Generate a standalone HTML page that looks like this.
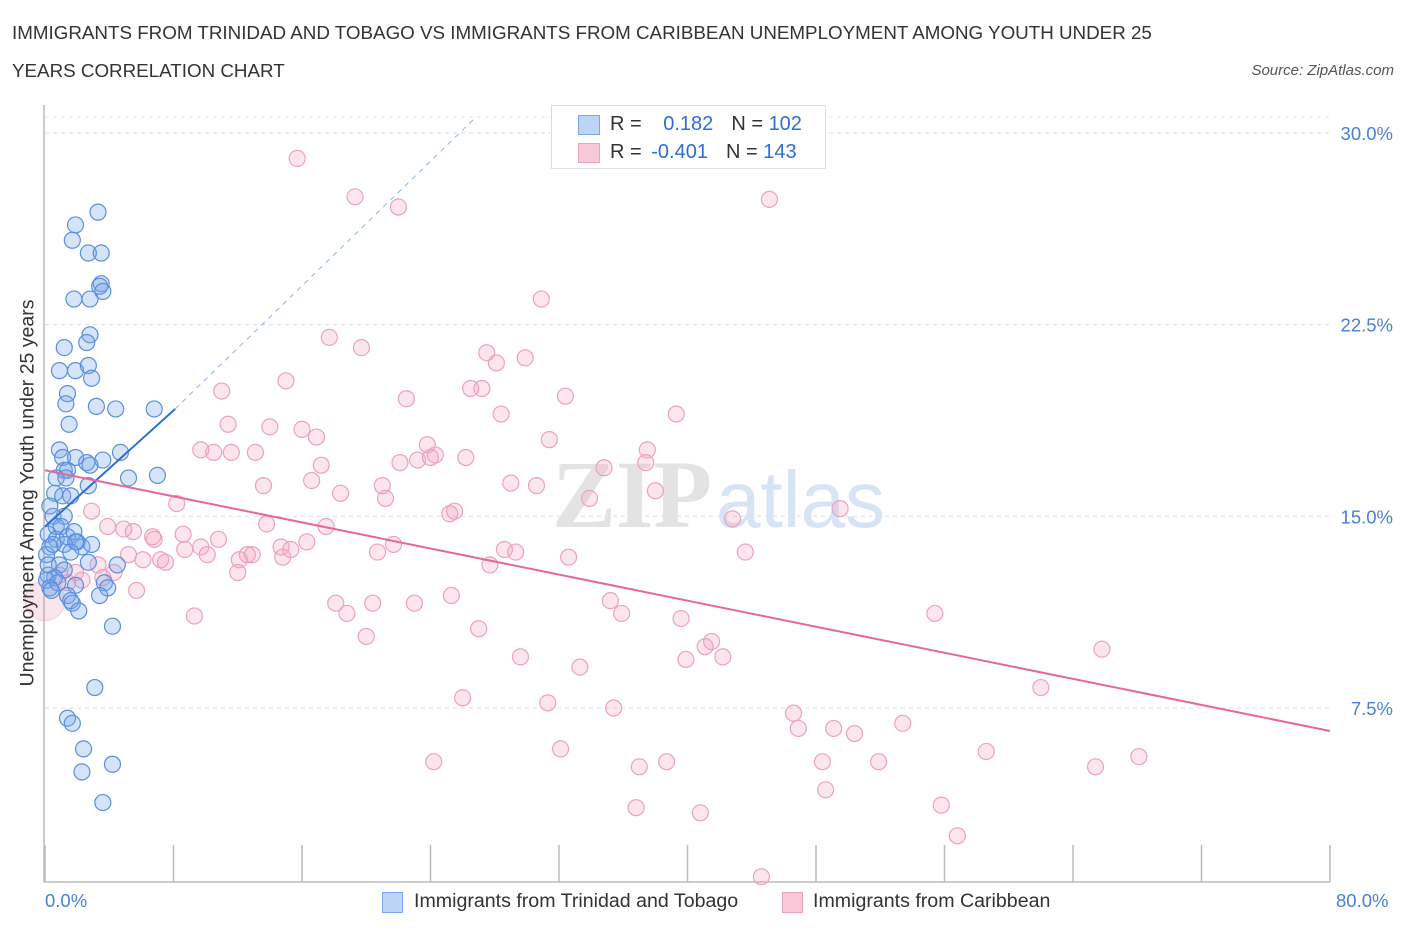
<!DOCTYPE html>
<html><head><meta charset="utf-8"><style>
body{margin:0;background:#fff;font-family:"Liberation Sans",sans-serif;}
#wrap{position:relative;width:1406px;height:930px;overflow:hidden;}
.t{position:absolute;white-space:nowrap;}
</style></head><body>
<div id="wrap">
<div class="t" style="left:12px;top:22px;font-size:18.8px;color:#333;">IMMIGRANTS FROM TRINIDAD AND TOBAGO VS IMMIGRANTS FROM CARIBBEAN UNEMPLOYMENT AMONG YOUTH UNDER 25</div>
<div class="t" style="left:12px;top:60px;font-size:18.8px;color:#333;">YEARS CORRELATION CHART</div>
<div class="t" style="right:12px;top:62px;font-size:15px;color:#555;font-style:italic;">Source: ZipAtlas.com</div>
<svg id="plot" width="1406" height="930" style="position:absolute;left:0;top:0"></svg>
</div>
<script>
const pinkX=[15.7,19.3,22.0,45.1,30.9,17.7,19.7,27.5,28.1,29.9,15.0,11.0,26.5,27.2,22.5,32.4,28.4,39.3,11.4,14.0,16.0,16.9,23.8,31.4,37.5,9.7,10.5,11.6,13.1,22.1,23.2,24.0,24.3,26.2,17.2,34.8,37.4,16.6,21.0,29.0,30.6,13.6,18.4,21.2,33.9,38.0,8.2,25.2,25.5,42.8,49.5,2.9,3.9,13.8,17.5,8.6,4.9,5.5,6.7,6.8,10.8,21.7,28.6,29.3,32.6,43.6,8.7,9.7,10.1,12.6,14.7,15.3,16.3,5.2,6.1,7.2,7.5,12.1,12.9,14.8,20.7,27.7,3.3,4.3,1.9,2.3,0.9,1.4,3.6,5.7,12.0,18.1,20.4,23.0,25.3,35.2,18.8,35.9,39.6,55.4,9.3,27.0,20.0,41.5,41.1,39.9,42.2,29.6,33.3,65.8,62.0,26.0,31.3,35.4,46.6,46.9,49.1,50.4,53.4,32.1,24.2,37.0,38.7,48.4,51.9,58.6,65.4,68.1,48.6,36.8,40.8,55.8,56.8,44.6];
const pinkY=[29.0,27.5,27.1,27.4,23.5,22.0,21.6,21.4,21.0,21.2,20.3,19.9,20.0,20.0,19.6,19.7,19.0,19.0,18.6,18.5,18.4,18.1,17.8,18.0,17.6,17.6,17.5,17.5,17.5,17.1,17.2,17.3,17.4,17.3,17.0,16.9,17.1,16.4,16.2,16.3,16.2,16.2,15.9,15.7,15.7,16.0,15.5,15.1,15.2,14.9,15.3,15.2,14.6,14.7,14.6,14.3,14.5,14.4,14.2,14.1,14.1,13.9,13.7,13.6,13.4,13.6,13.7,13.8,13.5,13.5,13.8,13.7,14.0,13.5,13.3,13.3,13.2,13.3,13.5,13.4,13.6,13.1,13.1,12.8,12.8,12.5,12.7,12.4,12.6,12.1,12.8,11.6,11.6,11.6,11.9,11.7,11.2,11.2,11.0,11.2,11.1,10.6,10.3,10.1,9.9,9.4,9.5,9.5,9.1,9.8,8.3,7.9,7.7,7.5,7.3,6.7,6.7,6.5,6.9,5.9,5.4,5.2,5.4,5.4,5.4,5.8,5.2,5.6,4.3,3.6,3.4,3.7,2.5,0.9];
const blueX=[3.3,1.9,1.7,2.7,3.5,3.5,3.4,3.6,1.8,2.8,2.8,2.6,1.2,0.9,1.9,2.7,2.9,1.4,1.3,3.2,4.4,6.8,1.5,0.9,1.1,1.9,4.7,3.6,2.6,2.8,1.2,1.4,0.7,1.3,7.0,5.2,2.7,0.6,1.1,1.6,0.3,0.5,1.2,0.7,1.0,0.2,0.7,1.4,1.8,2.0,2.3,2.9,1.9,1.2,0.3,0.1,1.6,2.7,4.5,0.9,1.2,0.2,0.6,0.1,0.3,0.8,1.9,3.7,3.9,1.4,3.4,1.6,1.7,2.1,4.2,3.1,1.4,1.7,2.4,2.3,4.2,3.6,0.4,0.2,0.5];
const blueY=[26.9,26.4,25.8,25.3,25.3,24.1,24.0,23.8,23.5,23.5,22.1,21.8,21.6,20.7,20.7,20.9,20.4,19.8,19.4,19.3,19.2,19.2,18.6,17.6,17.3,17.3,17.5,17.2,17.1,17.0,16.8,16.8,16.5,16.5,16.6,16.5,16.2,15.9,15.8,15.8,15.4,15.0,15.0,14.6,14.6,14.3,14.1,14.2,14.4,14.0,13.8,13.9,14.0,13.9,13.8,13.5,13.6,13.2,13.1,13.1,12.9,12.7,12.6,12.5,12.2,12.4,12.3,12.4,12.2,11.9,11.9,11.7,11.6,11.3,10.7,8.3,7.1,6.9,5.9,5.0,5.3,3.8,12.1,13.1,13.9];
const blueTrendX=[0,8.1], blueTrendY=[14.6,19.2];
const blueDashX=[8.1,26.8], blueDashY=[19.2,30.6];
const pinkTrendX=[0,80], pinkTrendY=[16.8,6.6];
const yTicks=[7.5,15.0,22.5,30.0];
const yTickLabels=["7.5%","15.0%","22.5%","30.0%"];
const xTicks=[0,8,16,24,32,40,48,56,64,72,80];

const X0=45,X1=1330,Y0=899.7,PXY=25.56;
const sx=v=>X0+(v/80)*(X1-X0);
const sy=v=>Y0-v*PXY;
const svg=document.getElementById('plot');
const NS='http://www.w3.org/2000/svg';
function mk(tag,attrs){const e=document.createElementNS(NS,tag);for(const k in attrs)e.setAttribute(k,attrs[k]);svg.appendChild(e);return e;}

yTicks.forEach((t,i)=>{
  const g=mk('line',{x1:45,x2:1330,y1:sy(t),y2:sy(t),stroke:'#ddd','stroke-dasharray':'4,4'});
  
  
  const tx=mk('text',{x:1393,y:sy(t)+7,'text-anchor':'end','font-size':18.5,fill:'#4a7fd4','font-family':'Liberation Sans, sans-serif'});
  tx.textContent=yTickLabels[i];
  
  
});
const tg=mk('line',{x1:45,x2:1330,y1:117,y2:117,stroke:'#e5e5e5','stroke-dasharray':'4,4'});


const ya=mk('line',{x1:44,x2:44,y1:105,y2:882,stroke:'#bbb','stroke-width':1.5});


const xa=mk('line',{x1:44,x2:1330,y1:882,y2:882,stroke:'#bbb','stroke-width':1.5});


xTicks.forEach(t=>{
  const l=mk('line',{x1:sx(t),x2:sx(t),y1:845,y2:882,stroke:'#bbb','stroke-width':1.5});
  
  
});
const wm=mk('text',{x:552,y:527,'font-size':96,fill:'#e3e3e3','font-family':'Liberation Serif, serif','font-weight':'bold'});
wm.textContent='ZIP';


const wm2=mk('text',{x:716,y:527,'font-size':80,fill:'#d6e4f5','font-family':'Liberation Sans, sans-serif'});
wm2.textContent='atlas';


const bc=mk('circle',{cx:sx(0),cy:sy(11.7),r:20,fill:'rgba(240,150,180,0.25)',stroke:'rgba(232,154,181,0.4)'});


pinkX.forEach((v,i)=>{
  const c=mk('circle',{cx:sx(v),cy:sy(pinkY[i]),r:8,fill:'rgba(244,160,190,0.28)',stroke:'#eba3bd','stroke-width':1.2});
  
  
});
blueX.forEach((v,i)=>{
  const c=mk('circle',{cx:sx(v),cy:sy(blueY[i]),r:8,fill:'rgba(120,165,235,0.3)',stroke:'#5a8fdc','stroke-width':1.2});
  
  
});
const bd=mk('line',{x1:sx(blueDashX[0]),y1:sy(blueDashY[0]),x2:sx(blueDashX[1]),y2:sy(blueDashY[1]),stroke:'#8fb3e8','stroke-width':1,'stroke-dasharray':'5,5'});


const bt=mk('line',{x1:sx(blueTrendX[0]),y1:sy(blueTrendY[0]),x2:sx(blueTrendX[1]),y2:sy(blueTrendY[1]),stroke:'#2d6fd6','stroke-width':2});


const pt=mk('line',{x1:sx(pinkTrendX[0]),y1:sy(pinkTrendY[0]),x2:sx(pinkTrendX[1]),y2:sy(pinkTrendY[1]),stroke:'#e4689a','stroke-width':2});


</script>
<div class="t" style="left:28px;top:493px;font-size:19.5px;color:#333;transform:translate(-50%,-50%) rotate(-90deg);transform-origin:center;">Unemployment Among Youth under 25 years</div>
<div style="position:absolute;left:551px;top:105px;width:273px;height:62px;border:1px solid #ddd;background:#fff;font-size:20px;">
  <div style="position:absolute;left:26px;top:9px;width:20px;height:18px;background:#bcd5f7;border:1px solid #7aa6e6;"></div>
  <div class="t" style="left:58px;top:7px;color:#333;">R = <span style="color:#2d6fd6;margin-left:16px">0.182</span><span style="color:#333;margin-left:18px">N = </span><span style="color:#2d6fd6">102</span></div>
  <div style="position:absolute;left:26px;top:37px;width:20px;height:18px;background:#f8c8d8;border:1px solid #eba3bd;"></div>
  <div class="t" style="left:58px;top:35px;color:#333;">R = <span style="color:#2d6fd6;margin-left:4px">-0.401</span><span style="color:#333;margin-left:18px">N = </span><span style="color:#2d6fd6">143</span></div>
</div>
<div class="t" style="left:45px;top:890px;font-size:18.5px;color:#4a7fd4;">0.0%</div>
<div class="t" style="left:1336px;top:890px;font-size:18.5px;color:#4a7fd4;">80.0%</div>
<div style="position:absolute;left:382px;top:890px;">
  <div style="position:absolute;left:0;top:2px;width:19px;height:19px;background:#bcd5f7;border:1px solid #7aa6e6;"></div>
  <div class="t" style="left:32px;top:0;font-size:19.6px;color:#333;">Immigrants from Trinidad and Tobago</div>
</div>
<div style="position:absolute;left:782px;top:890px;">
  <div style="position:absolute;left:0;top:2px;width:19px;height:19px;background:#f8c8d8;border:1px solid #eba3bd;"></div>
  <div class="t" style="left:31px;top:0;font-size:19.6px;color:#333;">Immigrants from Caribbean</div>
</div>
</body></html>
